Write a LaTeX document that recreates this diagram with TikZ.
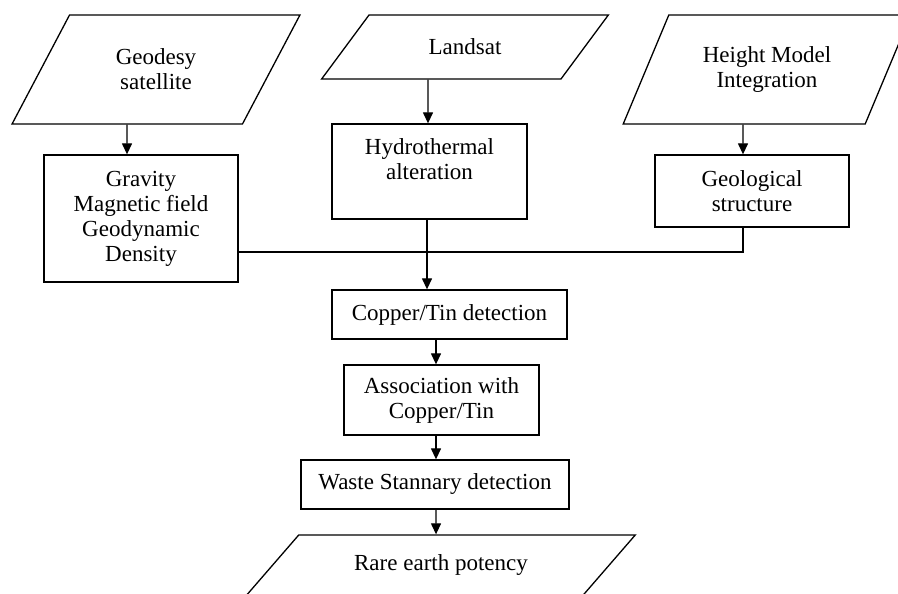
\documentclass[tikz,border=0pt]{standalone}
\usepackage{fontspec}
\setmainfont{Liberation Serif}
\usetikzlibrary{shapes.geometric,arrows.meta}

\tikzset{
  box/.style={draw, line width=1.3pt, align=center, inner sep=0pt},
  slant/.style={draw, line width=1.3pt, align=center, inner sep=0pt, trapezium, trapezium stretches=true},
  arr/.style={-{Triangle[length=11pt,width=10pt]}, line width=1.3pt},
}

\begin{document}
\begin{tikzpicture}[x=1pt, y=1pt, font=\fontsize{23}{25}\selectfont]
\useasboundingbox (0,0) rectangle (898,594);
% data sources
\node[slant, trapezium left angle=57, trapezium right angle=123, minimum width=288pt, minimum height=109pt] (geo) at (156,524.5) {Geodesy\\satellite};
\node[slant, trapezium left angle=42, trapezium right angle=138, minimum width=287pt, minimum height=64pt] (land) at (465,547) {Landsat};
\node[slant, trapezium left angle=57, trapezium right angle=123, minimum width=288pt, minimum height=109pt] (hgt) at (767,524.5) {Height Model\\Integration};
% first level
\node[box, minimum width=194pt, minimum height=127pt] (grav) at (141,375.5) {Gravity\\Magnetic field\\Geodynamic\\Density};
\node[box, minimum width=195pt, minimum height=95pt] (hydro) at (429.5,422.5) {Hydrothermal\\alteration\\~};
\node[box, minimum width=194pt, minimum height=72pt] (geol) at (752,403) {Geological\\structure};
% chain
\node[box, minimum width=235pt, minimum height=49pt] (copper) at (449.5,279.5) {Copper/Tin detection};
\node[box, minimum width=195pt, minimum height=70pt] (assoc) at (441.5,194) {Association with\\Copper/Tin};
\node[box, minimum width=268pt, minimum height=49pt] (waste) at (435,109.5) {Waste Stannary detection};
\node[slant, trapezium left angle=33.4, trapezium right angle=146.6, minimum width=389pt, minimum height=60pt] (rare) at (441,29) {Rare earth potency};

\draw[arr] ([xshift=-29pt]geo.south) -- ([xshift=-14pt]grav.north);
\draw[arr] ([xshift=-37pt]land.south) -- ([xshift=-1.5pt]hydro.north);
\draw[arr] ([xshift=-24pt]hgt.south) -- ([xshift=-9pt]geol.north);
\draw[line width=1.3pt] ([xshift=-9pt]geol.south) |- ([yshift=-33.5pt]grav.east);
\draw[arr] ([xshift=-2.5pt]hydro.south) -- ([xshift=-22.5pt]copper.north);
\draw[arr] ([xshift=-13.5pt]copper.south) -- ([xshift=-5.5pt]assoc.north);
\draw[arr] ([xshift=-5.5pt]assoc.south) -- ([xshift=1pt]waste.north);
\draw[arr] ([xshift=1pt]waste.south) -- ([xshift=-5pt]rare.north);
\end{tikzpicture}
\end{document}
